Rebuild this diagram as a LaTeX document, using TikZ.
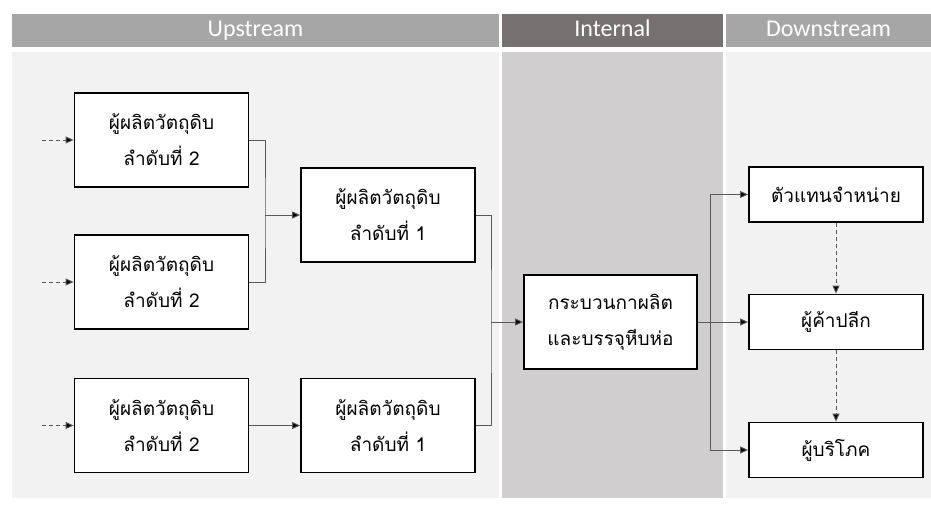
\documentclass[tikz,border=0pt]{standalone}
\usepackage{fontspec}
\newfontfamily\thaifont[Script=Thai]{Loma}
\newfontfamily\hdrfont{Carlito}
\usetikzlibrary{arrows.meta}
\definecolor{hdrgray}{HTML}{A6A6A6}
\definecolor{hdrdark}{HTML}{767171}
\definecolor{panel}{HTML}{F2F2F2}
\definecolor{panelint}{HTML}{D0CECE}
\definecolor{linegray}{HTML}{595959}
\tikzset{
  box/.style={draw=black, line width=1.8pt, fill=white, minimum width=174pt, minimum height=94pt,
    align=center, inner sep=2pt, font=\thaifont\fontsize{19}{36}\selectfont},
  sbox/.style={box, minimum height=55pt},
  hdr/.style={minimum height=33pt, inner sep=0pt, text=white, text height=15pt, text depth=4pt,
    font=\hdrfont\fontsize{24}{26}\selectfont},
  conn/.style={draw=linegray, line width=0.9pt},
  arr/.style={conn, -{Triangle[length=8pt,width=7pt,fill=black]}},
  dasharr/.style={arr, dash pattern=on 4pt off 3pt}
}
\begin{document}
\begin{tikzpicture}[x=1pt,y=-1pt]
\useasboundingbox (0,0) rectangle (931,506);
\fill[white] (0,0) rectangle (931,506);
% panels
\fill[panel] (12,52) rectangle (499,498);
\fill[panelint] (502,52) rectangle (723,498);
\fill[panel] (726,52) rectangle (931,498);
% headers
\node[hdr, fill=hdrgray, minimum width=487pt] (hU) at (255.5,30.5) {Upstream};
\node[hdr, fill=hdrdark, minimum width=221pt] (hI) at (612.5,30.5) {Internal};
\node[hdr, fill=hdrgray, minimum width=205pt] (hD) at (828.5,30.5) {Downstream};
% boxes
\node[box] (A) at (161.5,140) {ผู้ผลิตวัตถุดิบ\\ลำดับที่ 2};
\node[box] (B) at (161.5,282) {ผู้ผลิตวัตถุดิบ\\ลำดับที่ 2};
\node[box] (C) at (161.5,425.5) {ผู้ผลิตวัตถุดิบ\\ลำดับที่ 2};
\node[box] (D) at (388,215) {ผู้ผลิตวัตถุดิบ\\ลำดับที่ 1};
\node[box] (E) at (388,425.5) {ผู้ผลิตวัตถุดิบ\\ลำดับที่ 1};
\node[box, minimum width=173pt] (F) at (610.5,322) {กระบวนกาผลิต\\และบรรจุหีบห่อ};
\node[sbox] (G) at (836,194.5) {ตัวแทนจำหน่าย};
\node[sbox] (H) at (836,322) {ผู้ค้าปลีก};
\node[sbox] (I) at (836,450) {ผู้บริโภค};
% inputs
\coordinate (inA) at (42,140);
\coordinate (inB) at (42,282);
\coordinate (inC) at (42,425.5);
\draw[dasharr] (inA) -- (A.west);
\draw[dasharr] (inB) -- (B.west);
\draw[dasharr] (inC) -- (C.west);
% tier 2 -> tier 1
\coordinate (j1) at (265,215);
\draw[conn] (A.east) -| (j1) |- (B.east);
\draw[arr] (j1) -- (D.west);
\draw[arr] (C.east) -- (E.west);
% tier 1 -> internal
\coordinate (j2) at (491,322);
\draw[conn] (D.east) -| (j2) |- (E.east);
\draw[arr] (j2) -- (F.west);
% internal -> downstream
\coordinate (j3) at (710,322);
\draw[conn] (F.east) -- (j3);
\draw[arr] (j3) |- (G.west);
\draw[arr] (j3) -- (H.west);
\draw[arr] (j3) |- (I.west);
% downstream chain
\draw[dasharr] (G.south) -- (H.north);
\draw[dasharr] (H.south) -- (I.north);
\end{tikzpicture}
\end{document}
